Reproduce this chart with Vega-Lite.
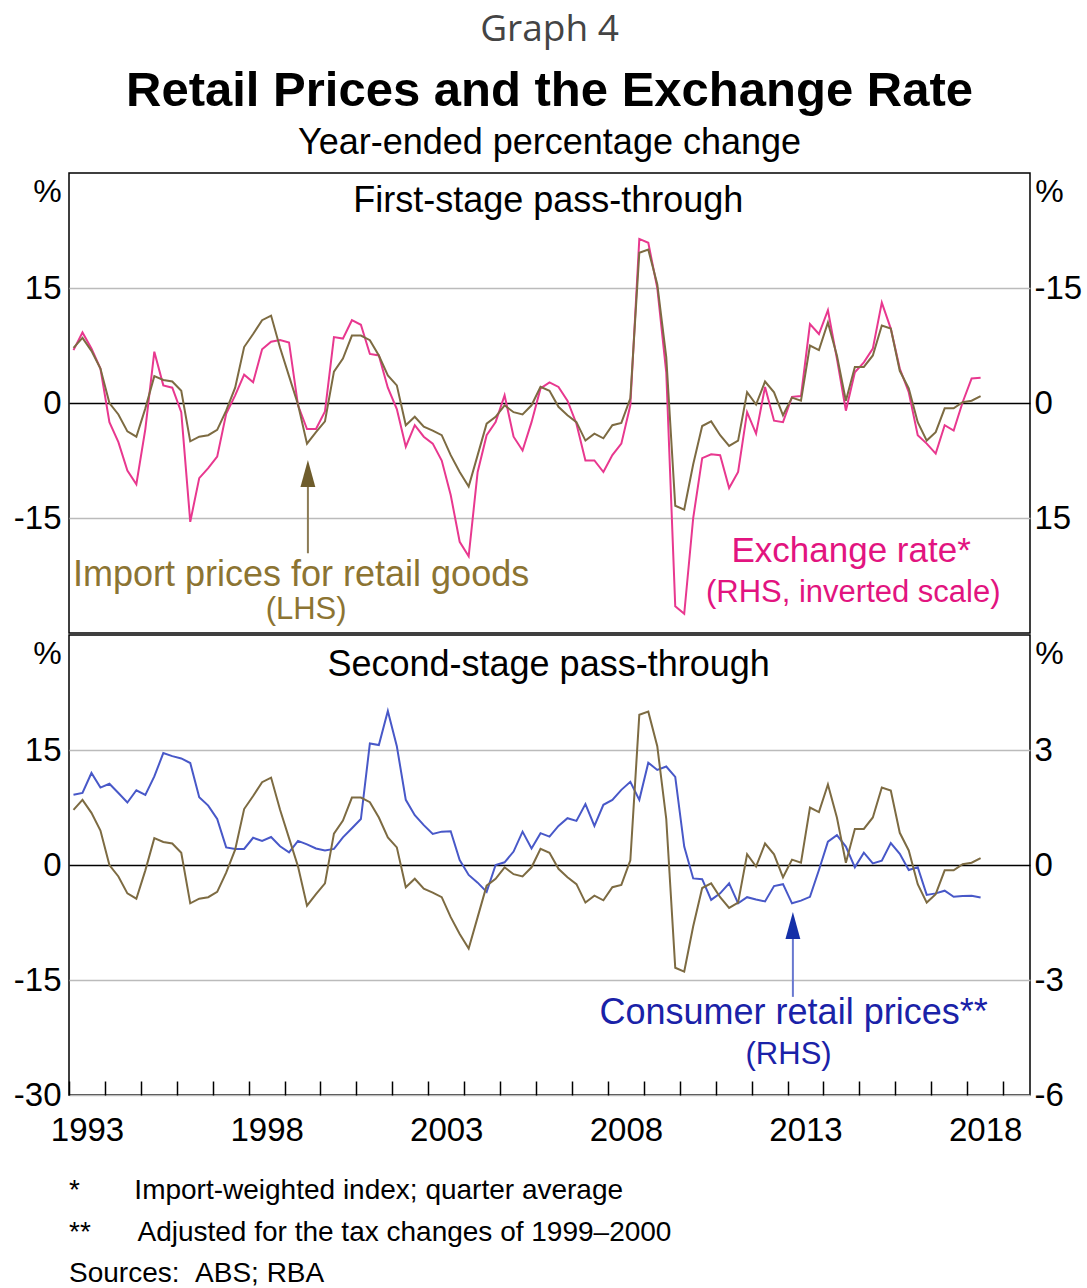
{
  "$schema": "https://vega.github.io/schema/vega-lite/v6.json",
  "background": "white",
  "padding": {"left": 12, "top": 11, "right": 0, "bottom": 0},
  "spacing": 0,
  "title": {"text": "Graph 4", "font": "Open Sans", "fontSize": 37, "fontWeight": "normal", "color": "#444444", "anchor": "middle", "frame": "group", "offset": 17},
  "config": {
    "view": {"stroke": "black", "strokeWidth": 1.5},
    "font": "Liberation Sans",
    "axis": {"labelFont": "Liberation Sans", "titleFont": "Liberation Sans", "labelColor": "black", "titleColor": "black"},
    "text": {"font": "Liberation Sans"}
  },
  "datasets": {
    "series": [
      {"t": 1993.125, "imp": 7.2, "twi": -6.9, "crp": 1.83},
      {"t": 1993.375, "imp": 8.5, "twi": -9.2, "crp": 1.88},
      {"t": 1993.625, "imp": 6.8, "twi": -7.1, "crp": 2.40},
      {"t": 1993.875, "imp": 4.5, "twi": -4.5, "crp": 2.02},
      {"t": 1994.125, "imp": 0.0, "twi": 2.5, "crp": 2.12},
      {"t": 1994.375, "imp": -1.5, "twi": 5.1, "crp": 1.88},
      {"t": 1994.625, "imp": -3.7, "twi": 8.8, "crp": 1.63},
      {"t": 1994.875, "imp": -4.4, "twi": 10.6, "crp": 1.95},
      {"t": 1995.125, "imp": -0.7, "twi": 3.4, "crp": 1.83},
      {"t": 1995.375, "imp": 3.5, "twi": -6.7, "crp": 2.31},
      {"t": 1995.625, "imp": 3.0, "twi": -2.3, "crp": 2.92},
      {"t": 1995.875, "imp": 2.8, "twi": -2.0, "crp": 2.84},
      {"t": 1996.125, "imp": 1.6, "twi": 1.2, "crp": 2.78},
      {"t": 1996.375, "imp": -5.0, "twi": 15.5, "crp": 2.66},
      {"t": 1996.625, "imp": -4.4, "twi": 9.8, "crp": 1.77},
      {"t": 1996.875, "imp": -4.2, "twi": 8.5, "crp": 1.55},
      {"t": 1997.125, "imp": -3.5, "twi": 7.0, "crp": 1.20},
      {"t": 1997.375, "imp": -1.0, "twi": 1.4, "crp": 0.46},
      {"t": 1997.625, "imp": 2.0, "twi": -1.0, "crp": 0.42},
      {"t": 1997.875, "imp": 7.3, "twi": -3.7, "crp": 0.42},
      {"t": 1998.125, "imp": 9.0, "twi": -2.7, "crp": 0.71},
      {"t": 1998.375, "imp": 10.8, "twi": -7.0, "crp": 0.63},
      {"t": 1998.625, "imp": 11.4, "twi": -8.0, "crp": 0.73},
      {"t": 1998.875, "imp": 7.2, "twi": -8.2, "crp": 0.49},
      {"t": 1999.125, "imp": 3.5, "twi": -7.9, "crp": 0.33},
      {"t": 1999.375, "imp": -0.2, "twi": 0.3, "crp": 0.63},
      {"t": 1999.625, "imp": -5.3, "twi": 3.4, "crp": 0.54},
      {"t": 1999.875, "imp": -3.8, "twi": 3.4, "crp": 0.43},
      {"t": 2000.125, "imp": -2.4, "twi": 1.1, "crp": 0.38},
      {"t": 2000.375, "imp": 4.1, "twi": -8.6, "crp": 0.42},
      {"t": 2000.625, "imp": 5.8, "twi": -8.4, "crp": 0.72},
      {"t": 2000.875, "imp": 8.8, "twi": -10.8, "crp": 0.96},
      {"t": 2001.125, "imp": 8.8, "twi": -10.2, "crp": 1.2},
      {"t": 2001.375, "imp": 8.2, "twi": -6.4, "crp": 3.17},
      {"t": 2001.625, "imp": 6.2, "twi": -6.2, "crp": 3.13},
      {"t": 2001.875, "imp": 3.6, "twi": -2.0, "crp": 4.02},
      {"t": 2002.125, "imp": 2.3, "twi": 0.8, "crp": 3.1},
      {"t": 2002.375, "imp": -2.9, "twi": 5.7, "crp": 1.70},
      {"t": 2002.625, "imp": -1.8, "twi": 2.9, "crp": 1.30},
      {"t": 2002.875, "imp": -3.1, "twi": 4.4, "crp": 1.04},
      {"t": 2003.125, "imp": -3.6, "twi": 5.3, "crp": 0.81},
      {"t": 2003.375, "imp": -4.2, "twi": 7.5, "crp": 0.87},
      {"t": 2003.625, "imp": -6.8, "twi": 12.0, "crp": 0.88},
      {"t": 2003.875, "imp": -9.0, "twi": 18.1, "crp": 0.13},
      {"t": 2004.125, "imp": -10.9, "twi": 20.0, "crp": -0.26},
      {"t": 2004.375, "imp": -6.8, "twi": 9.0, "crp": -0.46},
      {"t": 2004.625, "imp": -2.7, "twi": 4.2, "crp": -0.70},
      {"t": 2004.875, "imp": -1.8, "twi": 2.5, "crp": 0.0},
      {"t": 2005.125, "imp": -0.3, "twi": -1.0, "crp": 0.07},
      {"t": 2005.375, "imp": -1.2, "twi": 4.4, "crp": 0.35},
      {"t": 2005.625, "imp": -1.5, "twi": 6.2, "crp": 0.87},
      {"t": 2005.875, "imp": -0.3, "twi": 2.5, "crp": 0.43},
      {"t": 2006.125, "imp": 2.1, "twi": -1.9, "crp": 0.83},
      {"t": 2006.375, "imp": 1.6, "twi": -2.7, "crp": 0.74},
      {"t": 2006.625, "imp": -0.5, "twi": -2.1, "crp": 1.02},
      {"t": 2006.875, "imp": -1.6, "twi": -0.3, "crp": 1.22},
      {"t": 2007.125, "imp": -2.5, "twi": 2.7, "crp": 1.15},
      {"t": 2007.375, "imp": -4.9, "twi": 7.5, "crp": 1.59},
      {"t": 2007.625, "imp": -4.0, "twi": 7.5, "crp": 1.02},
      {"t": 2007.875, "imp": -4.6, "twi": 9.0, "crp": 1.57},
      {"t": 2008.125, "imp": -2.9, "twi": 6.8, "crp": 1.70},
      {"t": 2008.375, "imp": -2.6, "twi": 5.3, "crp": 1.96},
      {"t": 2008.625, "imp": 0.6, "twi": 0.3, "crp": 2.17},
      {"t": 2008.875, "imp": 19.6, "twi": -21.4, "crp": 1.70},
      {"t": 2009.125, "imp": 20.0, "twi": -20.9, "crp": 2.67},
      {"t": 2009.375, "imp": 15.5, "twi": -15.0, "crp": 2.48},
      {"t": 2009.625, "imp": 6.0, "twi": -4.0, "crp": 2.57},
      {"t": 2009.875, "imp": -13.4, "twi": 26.5, "crp": 2.30},
      {"t": 2010.125, "imp": -13.9, "twi": 27.5, "crp": 0.48},
      {"t": 2010.375, "imp": -8.0, "twi": 15.0, "crp": -0.35},
      {"t": 2010.625, "imp": -3.0, "twi": 7.2, "crp": -0.37},
      {"t": 2010.875, "imp": -2.4, "twi": 6.7, "crp": -0.91},
      {"t": 2011.125, "imp": -4.2, "twi": 6.8, "crp": -0.74},
      {"t": 2011.375, "imp": -5.6, "twi": 11.1, "crp": -0.48},
      {"t": 2011.625, "imp": -4.9, "twi": 9.0, "crp": -1.0},
      {"t": 2011.875, "imp": 1.4, "twi": 1.2, "crp": -0.84},
      {"t": 2012.125, "imp": -0.2, "twi": 4.0, "crp": -0.9},
      {"t": 2012.375, "imp": 2.8, "twi": -2.1, "crp": -0.95},
      {"t": 2012.625, "imp": 1.4, "twi": 2.3, "crp": -0.55},
      {"t": 2012.875, "imp": -1.6, "twi": 2.5, "crp": -0.5},
      {"t": 2013.125, "imp": 0.7, "twi": -0.8, "crp": -1.0},
      {"t": 2013.375, "imp": 0.3, "twi": -0.9, "crp": -0.93},
      {"t": 2013.625, "imp": 7.5, "twi": -10.3, "crp": -0.83},
      {"t": 2013.875, "imp": 6.9, "twi": -9.0, "crp": -0.13},
      {"t": 2014.125, "imp": 10.5, "twi": -12.1, "crp": 0.61},
      {"t": 2014.375, "imp": 6.2, "twi": -5.8, "crp": 0.78},
      {"t": 2014.625, "imp": 0.3, "twi": 1.0, "crp": 0.48},
      {"t": 2014.875, "imp": 4.7, "twi": -4.0, "crp": -0.06},
      {"t": 2015.125, "imp": 4.7, "twi": -5.3, "crp": 0.32},
      {"t": 2015.375, "imp": 6.2, "twi": -7.1, "crp": 0.04},
      {"t": 2015.625, "imp": 10.1, "twi": -13.1, "crp": 0.11},
      {"t": 2015.875, "imp": 9.7, "twi": -9.7, "crp": 0.57},
      {"t": 2016.125, "imp": 4.2, "twi": -4.5, "crp": 0.29},
      {"t": 2016.375, "imp": 1.9, "twi": -1.4, "crp": -0.13},
      {"t": 2016.625, "imp": -2.5, "twi": 4.2, "crp": -0.06},
      {"t": 2016.875, "imp": -4.9, "twi": 5.3, "crp": -0.78},
      {"t": 2017.125, "imp": -3.8, "twi": 6.6, "crp": -0.74},
      {"t": 2017.375, "imp": -0.7, "twi": 2.9, "crp": -0.67},
      {"t": 2017.625, "imp": -0.7, "twi": 3.6, "crp": -0.83},
      {"t": 2017.875, "imp": 0.1, "twi": -0.1, "crp": -0.81},
      {"t": 2018.125, "imp": 0.3, "twi": -3.2, "crp": -0.80},
      {"t": 2018.375, "imp": 0.9, "twi": -3.3, "crp": -0.85}
    ],
    "notes": [
      {"id": "t1", "t": 2006.34, "v": 26.3, "label": "First-stage pass-through"},
      {"id": "t2", "t": 2006.35, "v": 26.1, "label": "Second-stage pass-through"},
      {"id": "o1", "t": 1999.46, "v": -22.4, "label": "Import prices for retail goods"},
      {"id": "o2", "t": 1999.6, "v": -27.0, "label": "(LHS)"},
      {"id": "p1", "t": 2014.77, "v": -19.3, "label": "Exchange rate*"},
      {"id": "p2", "t": 2014.83, "v": -24.8, "label": "(RHS, inverted scale)"},
      {"id": "b1", "t": 2013.17, "v": -19.3, "label": "Consumer retail prices**"},
      {"id": "b2", "t": 2013.03, "v": -24.8, "label": "(RHS)"}
    ],
    "arrows": [
      {"id": "o", "t": 1999.65, "head": -9.2, "base": -19.6},
      {"id": "b", "t": 2013.15, "head": -7.9, "base": -17.2}
    ]
  },
  "vconcat": [
    {
      "width": 961,
      "height": 460,
      "title": {"text": "Retail Prices and the Exchange Rate", "subtitle": "Year-ended percentage change", "font": "Liberation Sans", "fontSize": 49, "fontWeight": "bold", "color": "black", "subtitleFont": "Liberation Sans", "subtitleFontSize": 36, "subtitleColor": "black", "subtitlePadding": 10, "anchor": "middle", "frame": "group", "offset": 12},
      "resolve": {"scale": {"y": "independent"}},
      "encoding": {
        "x": {"field": "t", "type": "quantitative", "scale": {"domain": [1993, 2019.75], "nice": false, "zero": false}, "axis": null}
      },
      "layer": [
        {
          "data": {"name": "series"},
          "mark": {"type": "line", "color": "#E8388F", "strokeWidth": 2},
          "encoding": {
            "y": {"field": "twi", "type": "quantitative", "scale": {"domain": [-30, 30], "reverse": true, "nice": false, "zero": false},
              "axis": {"orient": "right", "values": [-15, 0, 15], "labelExpr": "'' + datum.value", "grid": false, "ticks": false, "domain": false, "labelFontSize": 33, "labelPadding": 4, "title": "%", "titleAngle": 0, "titleX": 19, "titleY": 18, "titleAlign": "center", "titleBaseline": "middle", "titleFontSize": 32, "titleFontWeight": "normal"}}
          }
        },
        {
          "data": {"name": "series"},
          "mark": {"type": "line", "color": "#7D6B42", "strokeWidth": 2},
          "encoding": {
            "y": {"field": "imp", "type": "quantitative", "scale": {"domain": [-30, 30], "nice": false, "zero": false},
              "axis": {"orient": "left", "values": [-15, 0, 15], "labelExpr": "'' + datum.value", "grid": true, "gridColor": {"condition": {"test": "datum.value === 0", "value": "black"}, "value": "#BBBBBB"}, "gridWidth": 1.5, "ticks": false, "domain": false, "labelFontSize": 33, "labelPadding": 8, "title": "%", "titleAngle": 0, "titleX": -22, "titleY": 18, "titleAlign": "center", "titleBaseline": "middle", "titleFontSize": 32, "titleFontWeight": "normal"}}
          }
        },
        {
          "data": {"name": "notes"},
          "transform": [{"filter": "datum.id === 't1'"}],
          "mark": {"type": "text", "fontSize": 36, "color": "black", "align": "center", "baseline": "middle"},
          "encoding": {
            "y": {"field": "v", "type": "quantitative", "scale": {"domain": [-30, 30], "nice": false, "zero": false}, "axis": null},
            "text": {"field": "label"}
          }
        },
        {
          "data": {"name": "notes"},
          "transform": [{"filter": "datum.id === 'o1' || datum.id === 'o2'"}],
          "mark": {"type": "text", "color": "#8C7432", "align": "center", "baseline": "middle"},
          "encoding": {
            "y": {"field": "v", "type": "quantitative", "scale": {"domain": [-30, 30], "nice": false, "zero": false}, "axis": null},
            "text": {"field": "label"},
            "size": {"condition": {"test": "datum.id === 'o2'", "value": 31}, "value": 36}
          }
        },
        {
          "data": {"name": "notes"},
          "transform": [{"filter": "datum.id === 'p1' || datum.id === 'p2'"}],
          "mark": {"type": "text", "color": "#E2147F", "align": "center", "baseline": "middle"},
          "encoding": {
            "y": {"field": "v", "type": "quantitative", "scale": {"domain": [-30, 30], "nice": false, "zero": false}, "axis": null},
            "text": {"field": "label"},
            "size": {"condition": {"test": "datum.id === 'p2'", "value": 31}, "value": 35}
          }
        },
        {
          "data": {"name": "arrows"},
          "transform": [{"filter": "datum.id === 'o'"}],
          "mark": {"type": "rule", "color": "#8B7B55", "strokeWidth": 2},
          "encoding": {
            "y": {"field": "head", "type": "quantitative", "scale": {"domain": [-30, 30], "nice": false, "zero": false}, "axis": null},
            "y2": {"field": "base"}
          }
        },
        {
          "data": {"name": "arrows"},
          "transform": [{"filter": "datum.id === 'o'"}],
          "mark": {"type": "point", "shape": "M0,-1L0.55,1L-0.55,1Z", "filled": true, "opacity": 1, "size": 729, "color": "#6E5C2C"},
          "encoding": {
            "y": {"field": "head", "type": "quantitative", "scale": {"domain": [-30, 30], "nice": false, "zero": false}, "axis": null}
          }
        }
      ]
    },
    {
      "width": 961,
      "height": 460,
      "title": {"text": ["*\u00a0\u00a0\u00a0\u00a0\u00a0\u00a0\u00a0Import-weighted index; quarter average", "**\u00a0\u00a0\u00a0\u00a0\u00a0\u00a0Adjusted for the tax changes of 1999\u20132000", "Sources:\u00a0\u00a0ABS; RBA"], "orient": "bottom", "anchor": "start", "frame": "group", "font": "Liberation Sans", "fontSize": 28, "fontWeight": "normal", "color": "black", "lineHeight": 41.5, "offset": 30},
      "resolve": {"scale": {"y": "independent"}},
      "encoding": {
        "x": {"field": "t", "type": "quantitative", "scale": {"domain": [1993, 2019.75], "nice": false, "zero": false},
          "axis": {"orient": "bottom", "values": [1993, 1994, 1995, 1996, 1997, 1998, 1999, 2000, 2001, 2002, 2003, 2004, 2005, 2006, 2007, 2008, 2009, 2010, 2011, 2012, 2013, 2014, 2015, 2016, 2017, 2018, 2019], "format": "d", "labelExpr": "(datum.value - 1993) % 5 === 0 ? datum.label : ''", "labelOffset": 18, "labelOverlap": false, "labelFlush": false, "labelBound": false, "grid": false, "domain": false, "ticks": true, "tickSize": -14, "tickColor": "black", "tickWidth": 1.5, "labelFontSize": 33, "labelPadding": 33, "labelBaseline": "top", "title": null}}
      },
      "layer": [
        {
          "data": {"name": "series"},
          "mark": {"type": "line", "color": "#4858C8", "strokeWidth": 2},
          "encoding": {
            "y": {"field": "crp", "type": "quantitative", "scale": {"domain": [-6, 6], "nice": false, "zero": false},
              "axis": {"orient": "right", "values": [-6, -3, 0, 3], "labelExpr": "'' + datum.value", "grid": false, "ticks": false, "domain": false, "labelFontSize": 33, "labelPadding": 4, "title": "%", "titleAngle": 0, "titleX": 19, "titleY": 18, "titleAlign": "center", "titleBaseline": "middle", "titleFontSize": 32, "titleFontWeight": "normal"}}
          }
        },
        {
          "data": {"name": "series"},
          "mark": {"type": "line", "color": "#7D6B42", "strokeWidth": 2},
          "encoding": {
            "y": {"field": "imp", "type": "quantitative", "scale": {"domain": [-30, 30], "nice": false, "zero": false},
              "axis": {"orient": "left", "values": [-30, -15, 0, 15], "labelExpr": "'' + datum.value", "grid": true, "gridColor": {"condition": {"test": "datum.value === 0", "value": "black"}, "value": "#BBBBBB"}, "gridWidth": 1.5, "ticks": false, "domain": false, "labelFontSize": 33, "labelPadding": 8, "title": "%", "titleAngle": 0, "titleX": -22, "titleY": 18, "titleAlign": "center", "titleBaseline": "middle", "titleFontSize": 32, "titleFontWeight": "normal"}}
          }
        },
        {
          "data": {"name": "notes"},
          "transform": [{"filter": "datum.id === 't2'"}],
          "mark": {"type": "text", "fontSize": 36, "color": "black", "align": "center", "baseline": "middle"},
          "encoding": {
            "y": {"field": "v", "type": "quantitative", "scale": {"domain": [-30, 30], "nice": false, "zero": false}, "axis": null},
            "text": {"field": "label"}
          }
        },
        {
          "data": {"name": "notes"},
          "transform": [{"filter": "datum.id === 'b1' || datum.id === 'b2'"}],
          "mark": {"type": "text", "color": "#1A22A8", "align": "center", "baseline": "middle"},
          "encoding": {
            "y": {"field": "v", "type": "quantitative", "scale": {"domain": [-30, 30], "nice": false, "zero": false}, "axis": null},
            "text": {"field": "label"},
            "size": {"condition": {"test": "datum.id === 'b2'", "value": 31}, "value": 36}
          }
        },
        {
          "data": {"name": "arrows"},
          "transform": [{"filter": "datum.id === 'b'"}],
          "mark": {"type": "rule", "color": "#6878D0", "strokeWidth": 2},
          "encoding": {
            "y": {"field": "head", "type": "quantitative", "scale": {"domain": [-30, 30], "nice": false, "zero": false}, "axis": null},
            "y2": {"field": "base"}
          }
        },
        {
          "data": {"name": "arrows"},
          "transform": [{"filter": "datum.id === 'b'"}],
          "mark": {"type": "point", "shape": "M0,-1L0.55,1L-0.55,1Z", "filled": true, "opacity": 1, "size": 729, "color": "#1530A8"},
          "encoding": {
            "y": {"field": "head", "type": "quantitative", "scale": {"domain": [-30, 30], "nice": false, "zero": false}, "axis": null}
          }
        }
      ]
    }
  ]
}
